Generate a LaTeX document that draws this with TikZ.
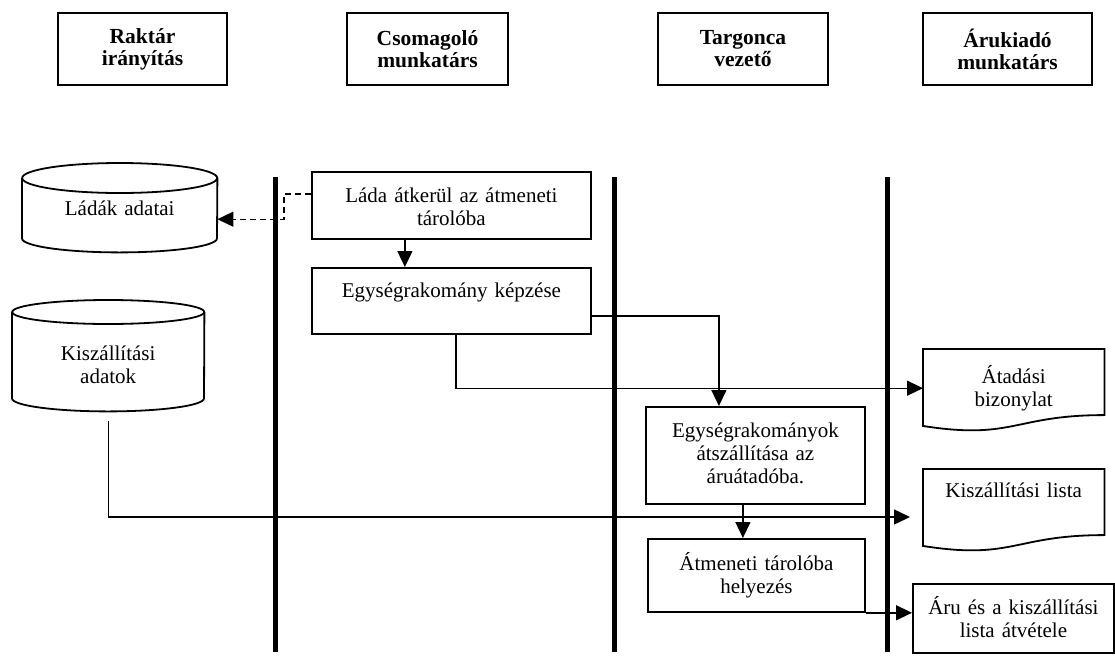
\documentclass[tikz,border=0pt]{standalone}
\usepackage{fontspec}
\setmainfont{Liberation Serif}
\usetikzlibrary{arrows.meta,calc}

\begin{document}
\begin{tikzpicture}[x=1pt,y=-1pt,
  lane/.style={line width=5pt},
  hdr/.style={draw, line width=2pt, inner sep=0pt, align=center,
    font=\bfseries\fontsize{21.5}{22}\selectfont},
  stepbox/.style={draw, line width=1.8pt, inner sep=0pt, anchor=north west},
  store/.style={inner sep=0pt, anchor=north west},
  lbl/.style={inner sep=0pt, text width=#1, align=center, anchor=base,
    font=\fontsize{21}{23}\selectfont},
  lbl/.default=260pt,
  outline/.style={line width=1.8pt},
  conn/.style={line width=1.4pt},
  arr/.style={conn, -{Triangle[length=16pt,width=15pt]}},
  dasharr/.style={arr, dash pattern=on 6pt off 4pt},
]
\useasboundingbox (0,0) rectangle (1115,659);

% lane headers
\node[hdr, minimum width=169pt, minimum height=72pt] (h1) at (142.5,49) {Raktár\\irányítás};
\node[hdr, minimum width=161pt, minimum height=72pt] (h2) at (427.5,49) {Csomagoló\\munkatárs};
\node[hdr, minimum width=170pt, minimum height=72pt] (h3) at (743,49) {Targonca\\vezető};
\node[hdr, minimum width=169pt, minimum height=72pt] (h4) at (1007.5,49) {Árukiadó\\munkatárs};

% lane separators
\draw[lane] (275,177) -- (275,652);
\draw[lane] (614.5,177) -- (614.5,652);
\draw[lane] (887,177) -- (887,652);

% process steps
\node[stepbox, minimum width=279pt, minimum height=67pt] (b1) at (311,171) {};
\node[lbl] at ($(b1.north)+(0,31)$) {Láda átkerül az átmeneti\\tárolóba};

\node[stepbox, minimum width=279pt, minimum height=66pt] (b2) at (311,267) {};
\node[lbl] at ($(b2.north)+(0,30)$) {Egységrakomány képzése};

\node[stepbox, minimum width=219pt, minimum height=97pt] (b3) at (645,406) {};
\node[lbl] at ($(b3.north)+(0,31)$) {Egységrakományok\\átszállítása az\\áruátadóba.};

\node[stepbox, minimum width=217pt, minimum height=73pt] (b4) at (647,538) {};
\node[lbl] at ($(b4.north)+(0,32)$) {Átmeneti tárolóba\\helyezés};

\node[stepbox, minimum width=201pt, minimum height=69pt] (aru) at (912,583) {};
\node[lbl] at ($(aru.north)+(0,31)$) {Áru és a kiszállítási\\lista átvétele};

% data stores
\node[store, minimum width=195pt, minimum height=89pt] (db1) at (22,163) {};
\draw[outline] ([yshift=-15pt]db1.north) ellipse [x radius=97.5pt, y radius=15pt];
\draw[outline] ([yshift=-15pt]db1.north west) -- ([yshift=14pt]db1.south west)
  arc[start angle=180, end angle=360, x radius=97.5pt, y radius=14pt]
  -- ([yshift=-15pt]db1.north east);
\node[lbl] at ($(db1.north)+(0,52)$) {Ládák adatai};

\node[store, minimum width=192pt, minimum height=111pt] (db2) at (12,300) {};
\draw[outline] ([yshift=-12pt]db2.north) ellipse [x radius=96pt, y radius=12pt];
\draw[outline] ([yshift=-12pt]db2.north west) -- ([yshift=13pt]db2.south west)
  arc[start angle=180, end angle=360, x radius=96pt, y radius=13pt]
  -- ([yshift=-12pt]db2.north east);
\node[lbl] at ($(db2.north)+(0,60)$) {Kiszállítási\\adatok};

% documents
\node[store, minimum width=181pt, minimum height=82pt] (doc1) at (923,349) {};
\draw[outline] (doc1.north west) -- (doc1.north east)
  -- ($(doc1.north east)!0.802!(doc1.south east)$)
  .. controls ($(doc1.north)!0.802!(doc1.south)$) and ($(doc1.north)!1.107!(doc1.south)$)
  .. ($(doc1.north west)!0.934!(doc1.south west)$) -- cycle;
\node[lbl] at ($(doc1.north)+(0,34)$) {Átadási\\bizonylat};

\node[store, minimum width=181pt, minimum height=82pt] (doc2) at (923,469) {};
\draw[outline] (doc2.north west) -- (doc2.north east)
  -- ($(doc2.north east)!0.802!(doc2.south east)$)
  .. controls ($(doc2.north)!0.802!(doc2.south)$) and ($(doc2.north)!1.107!(doc2.south)$)
  .. ($(doc2.north west)!0.934!(doc2.south west)$) -- cycle;
\node[lbl] at ($(doc2.north)+(0,28)$) {Kiszállítási lista};

% connectors
\draw[arr] ([xshift=-46.5pt]b1.south) -- ([xshift=-46.5pt]b2.north);
\draw[dasharr] ([yshift=11.5pt]b1.west) -- ++(-27,0) |- ([yshift=-11.5pt]db1.east);
\draw[arr] ([yshift=-15pt]b2.east) -| ([xshift=-36.5pt]b3.north);
\draw[arr] ([xshift=4.5pt]b2.south) |- ([yshift=2pt]doc1.west);
\draw[arr] ([xshift=-12.5pt]b3.south) -- ([xshift=-12.5pt]b3.south |- b4.north);
\draw[arr] (b4.south east) -- (b4.south east -| aru.west);
\coordinate (kl-end) at (910,517);
\draw[arr] ([yshift=-10pt]db2.south) |- (kl-end);
\end{tikzpicture}
\end{document}
